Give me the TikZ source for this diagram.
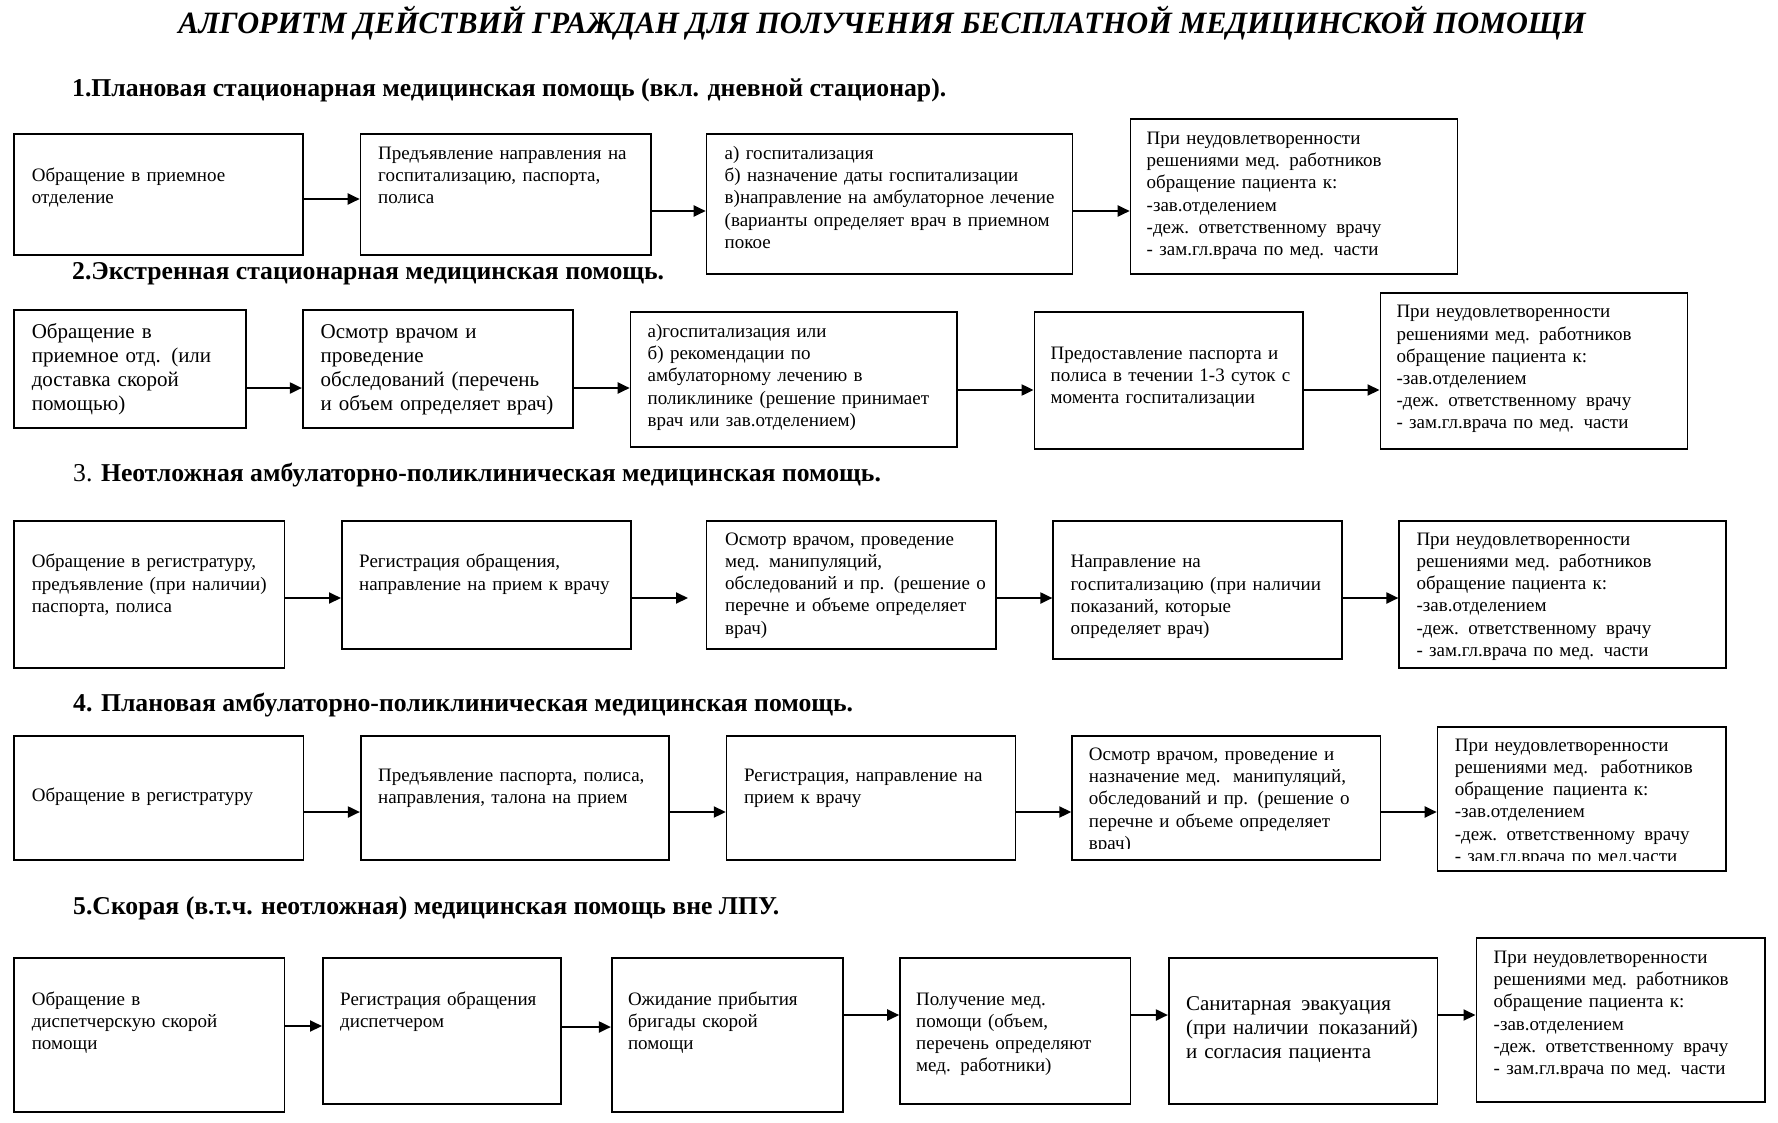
\documentclass[tikz,border=0pt]{standalone}
\usepackage{fontspec}
\setmainfont{Liberation Serif}
\newfontfamily\ttlfont[FakeStretch=0.977]{Liberation Serif}
\usetikzlibrary{arrows.meta,fit}
\newcommand\xsp{\hspace{3pt} }
\newcommand\nedov{При неудовлетворенности\\решениями мед. работников\\обращение пациента к:\\-зав.отделением\\-деж. ответственному\xsp врачу\\- зам.гл.врача по мед. части}
\tikzset{
  box/.style={draw, line width=1.6pt, inner sep=0pt},
  txt/.style={inner sep=0pt, anchor=base west, align=left, text width=480pt, font=\fontsize{19}{22.2}\selectfont},
  txtL/.style={txt, font=\fontsize{21}{24}\selectfont},
  head/.style={inner sep=0pt, anchor=base west, font=\fontsize{25.7}{29}\selectfont\bfseries},
  ttl/.style={inner sep=0pt, anchor=base, font=\ttlfont\fontsize{31}{35}\selectfont\bfseries\itshape},
  arr/.style={line width=2pt, -{Triangle[length=12pt,width=11pt]}},
}
\begin{document}
\begin{tikzpicture}[x=1pt,y=-1pt]
\useasboundingbox (0,0) rectangle (1778,1122);
\fill[white] (0,0) rectangle (1778,1122);
\node[ttl] (T) at (882,33) {АЛГОРИТМ ДЕЙСТВИЙ ГРАЖДАН ДЛЯ ПОЛУЧЕНИЯ БЕСПЛАТНОЙ МЕДИЦИНСКОЙ ПОМОЩИ};
\node[head] (H1) at (72,96.7) {1.Плановая стационарная медицинская помощь (вкл. дневной стационар).};
\node[head] (H2) at (72,279.5) {2.Экстренная стационарная медицинская помощь.};
\node[head] (H3) at (73,481.7) {{\mdseries 3.} Неотложная амбулаторно-поликлиническая медицинская помощь.};
\node[head] (H4) at (73,711.7) {4. Плановая амбулаторно-поликлиническая медицинская помощь.};
\node[head] (H5) at (73,914) {5.Скорая (в.т.ч. неотложная) медицинская помощь вне ЛПУ.};

% Row 1
\node[box, fit={(14,134) (303,255)}] (A1) {};
\node[txt] (A1t) at (31.6,181.5) {Обращение в приемное\\отделение};
\node[box, fit={(360.5,134) (651,255)}] (A2) {};
\node[txt] (A2t) at (378,159.5) {Предъявление направления на\\госпитализацию, паспорта,\\полиса};
\node[box, fit={(706.5,134) (1072.5,274)}] (A3) {};
\node[txt] (A3t) at (724.5,159.5) {а) госпитализация\\б) назначение даты госпитализации\\в)направление на амбулаторное лечение\\(варианты определяет врач в приемном\\покое};
\node[box, fit={(1130.5,119) (1457.5,274)}] (A4) {};
\node[txt] (A4t) at (1146.5,144.5) {\nedov};
\draw[arr] (A1.east |- 0,199) -- (A2.west |- 0,199);
\draw[arr] (A2.east |- 0,211) -- (A3.west |- 0,211);
\draw[arr] (A3.east |- 0,211) -- (A4.west |- 0,211);

% Row 2
\node[box, fit={(14,310) (246,428)}] (B1) {};
\node[txtL] (B1t) at (31.6,338.3) {Обращение в\\приемное отд. (или\\доставка скорой\\помощью)};
\node[box, fit={(302.7,310) (573.2,428)}] (B2) {};
\node[txtL] (B2t) at (320.5,338.3) {Осмотр врачом и\\проведение\\обследований (перечень\\и объем определяет врач)};
\node[box, fit={(630.5,312) (957.2,447)}] (B3) {};
\node[txt] (B3t) at (647.5,337.5) {а)госпитализация или\\б) рекомендации по\\амбулаторному лечению в\\поликлинике (решение принимает\\врач или зав.отделением)};
\node[box, fit={(1034.4,312) (1303.1,449)}] (B4) {};
\node[txt] (B4t) at (1050.4,359.5) {Предоставление паспорта и\\полиса в течении 1-3 суток с\\момента госпитализации};
\node[box, fit={(1380.3,293) (1687.3,449)}] (B5) {};
\node[txt] (B5t) at (1396.3,317.8) {\nedov};
\draw[arr] (B1.east |- 0,388) -- (B2.west |- 0,388);
\draw[arr] (B2.east |- 0,388) -- (B3.west |- 0,388);
\draw[arr] (B3.east |- 0,390) -- (B4.west |- 0,390);
\draw[arr] (B4.east |- 0,390) -- (B5.west |- 0,390);

% Row 3
\node[box, fit={(14,521) (284.3,668)}] (C1) {};
\node[txt] (C1t) at (31.6,567.8) {Обращение в регистратуру,\\предъявление (при наличии)\\паспорта, полиса};
\node[box, fit={(341.8,521) (630.7,649)}] (C2) {};
\node[txt] (C2t) at (359,567.8) {Регистрация обращения,\\направление на прием к врачу};
\node[box, fit={(706.5,521) (996.1,649)}] (C3) {};
\node[txt] (C3t) at (724.9,545.2) {Осмотр врачом, проведение\\мед. манипуляций,\\обследований и пр. (решение о\\перечне и объеме определяет\\врач)};
\node[box, fit={(1053.2,521) (1342,659)}] (C4) {};
\node[txt] (C4t) at (1070.4,567.8) {Направление на\\госпитализацию (при наличии\\показаний, которые\\определяет врач)};
\node[box, fit={(1399.2,521) (1726.2,668)}] (C5) {};
\node[txt] (C5t) at (1416.3,545.2) {\nedov};
\coordinate (C3in) at (688,598);
\draw[arr] (C1.east |- 0,598) -- (C2.west |- 0,598);
\draw[arr] (C2.east |- 0,598) -- (C3in);
\draw[arr] (C3.east |- 0,598) -- (C4.west |- 0,598);
\draw[arr] (C4.east |- 0,598) -- (C5.west |- 0,598);

% Row 4
\node[box, fit={(14,736) (303.3,860)}] (D1) {};
\node[txt] (D1t) at (31.6,801.8) {Обращение в регистратуру};
\node[box, fit={(360.7,736) (669.2,860)}] (D2) {};
\node[txt] (D2t) at (378,781.2) {Предъявление паспорта, полиса,\\направления, талона на прием};
\node[box, fit={(726.6,736) (1015.5,860)}] (D3) {};
\node[txt] (D3t) at (743.8,781.2) {Регистрация, направление на\\прием к врачу};
\node[box, fit={(1072.1,736) (1380.3,860)}] (D4) {};
\begin{scope}
\clip (1072.1,736) rectangle (1380.3,848);
\node[txt] (D4t) at (1088.7,760.5) {Осмотр врачом, проведение и\\назначение мед.\xsp манипуляций,\\обследований и пр. (решение о\\перечне и объеме определяет\\врач)};
\end{scope}
\node[box, fit={(1437.5,727) (1726.2,871)}] (D5) {};
\begin{scope}
\clip (1437.5,727) rectangle (1726.2,860);
\node[txt] (D5t) at (1454.6,751.2) {При неудовлетворенности\\решениями мед.\xsp работников\\обращение\xsp пациента к:\\-зав.отделением\\-деж. ответственному\xsp врачу\\- зам.гл.врача по мед.части};
\end{scope}
\draw[arr] (D1.east |- 0,812) -- (D2.west |- 0,812);
\draw[arr] (D2.east |- 0,812) -- (D3.west |- 0,812);
\draw[arr] (D3.east |- 0,812) -- (D4.west |- 0,812);
\draw[arr] (D4.east |- 0,812) -- (D5.west |- 0,812);

% Row 5
\node[box, fit={(14,958) (284.3,1112)}] (E1) {};
\node[txt] (E1t) at (31.6,1005.2) {Обращение в\\диспетчерскую скорой\\помощи};
\node[box, fit={(322.8,958) (561.2,1104)}] (E2) {};
\node[txt] (E2t) at (340,1005.2) {Регистрация обращения\\диспетчером};
\node[box, fit={(611.7,958) (843.2,1112)}] (E3) {};
\node[txt] (E3t) at (627.8,1005.2) {Ожидание прибытия\\бригады скорой\\помощи};
\node[box, fit={(900,958) (1130.4,1104)}] (E4) {};
\node[txt] (E4t) at (916,1005.2) {Получение мед.\\помощи (объем,\\перечень определяют\\мед. работники)};
\node[box, fit={(1168.7,958) (1437.5,1104)}] (E5) {};
\node[txtL] (E5t) at (1185.9,1010) {Санитарная\xsp эвакуация\\(при наличии\xsp показаний)\\и согласия пациента};
\node[box, fit={(1476.3,938) (1765.1,1102)}] (E6) {};
\node[txt] (E6t) at (1493.5,963.5) {\nedov};
\draw[arr] (E1.east |- 0,1026) -- (E2.west |- 0,1026);
\draw[arr] (E2.east |- 0,1027) -- (E3.west |- 0,1027);
\draw[arr] (E3.east |- 0,1015) -- (E4.west |- 0,1015);
\draw[arr] (E4.east |- 0,1015) -- (E5.west |- 0,1015);
\draw[arr] (E5.east |- 0,1015) -- (E6.west |- 0,1015);
\end{tikzpicture}
\end{document}
